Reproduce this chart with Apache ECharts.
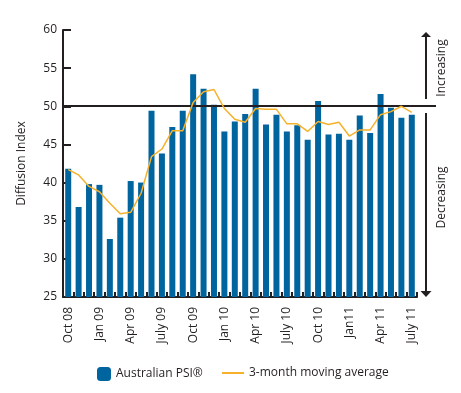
<!DOCTYPE html>
<html><head><meta charset="utf-8">
<script src="https://cdn.jsdelivr.net/npm/echarts@6/dist/echarts.min.js"></script>
<style>html,body{margin:0;padding:0;background:#fff}#c{width:461px;height:393px}</style>
</head><body><div id="c"></div>
<script>
const months = ['Oct 08','Nov 08','Dec 08','Jan 09','Feb 09','Mar 09','Apr 09','May 09','June 09','July 09','Aug 09','Sep 09',
  'Oct 09','Nov 09','Dec 09','Jan 10','Feb 10','Mar 10','Apr 10','May 10','June 10','July 10','Aug 10','Sep 10',
  'Oct 10','Nov 10','Dec 10','Jan11','Feb 11','Mar 11','Apr 11','May 11','June 11','July 11'];
const psi = [41.8,36.8,39.8,39.7,32.6,35.4,40.2,40.0,49.4,43.8,47.3,49.4,
  54.2,52.3,50.2,46.7,48.0,49.0,52.3,47.6,48.9,46.7,47.5,45.6,
  50.7,46.3,46.4,45.6,48.8,46.5,51.6,49.8,48.5,48.9];
const movingAvg = [41.7,41.0,39.5,38.8,37.3,35.9,36.1,38.6,43.4,44.4,46.8,46.8,
  50.5,51.9,52.2,49.7,48.3,47.9,49.7,49.6,49.6,47.7,47.7,46.7,
  48.0,47.6,47.9,46.1,46.9,46.9,48.9,49.3,50.0,49.2];
const yTicks = {min: 25, max: 60, interval: 5};
const threshold = 50;
const seriesNames = ['Australian PSI®', '3-month moving average'];
const sideLabels = ['Increasing', 'Decreasing'];

const ink = '#231f20';
const font = 'Open Sans';
const lineColor = '#f6b12a';
const chart = echarts.init(document.getElementById('c'), null, {renderer: 'canvas'});
const option = {
  animation: false,
  textStyle: {fontFamily: font, color: ink},
  grid: {left: 63, right: 44, top: 30, bottom: 96, containLabel: false},
  legend: [
    {data: [seriesNames[0]], left: 97, top: 367, itemWidth: 14, itemHeight: 14, itemGap: 0,
     textStyle: {fontFamily: font, fontSize: 12, color: ink}, padding: 0},
    {data: [{name: seriesNames[1], icon: 'rect'}], left: 222, top: 367, itemWidth: 22, itemHeight: 2,
     itemStyle: {color: lineColor, borderWidth: 0},
     textStyle: {fontFamily: font, fontSize: 12, color: ink}, padding: 0}
  ],
  xAxis: {
    type: 'category', data: months, boundaryGap: true,
    axisLine: {show: true, lineStyle: {color: ink, width: 2}},
    axisTick: {show: true, inside: true, length: 5, interval: 0, lineStyle: {color: ink, width: 2}},
    axisLabel: {rotate: 90, interval: 2, margin: 10, fontSize: 12, color: ink, fontFamily: font},
    splitLine: {show: false}
  },
  yAxis: {
    type: 'value', min: yTicks.min, max: yTicks.max, interval: yTicks.interval,
    name: 'Diffusion Index', nameLocation: 'middle', nameGap: 35, nameRotate: 90,
    nameTextStyle: {fontSize: 12, color: ink, fontFamily: font},
    axisLine: {show: true, lineStyle: {color: ink, width: 2}},
    axisTick: {show: true, inside: true, length: 8, lineStyle: {color: ink, width: 2}},
    axisLabel: {fontSize: 12, color: ink, margin: 6, fontFamily: font},
    splitLine: {show: false}
  },
  series: [
    {name: seriesNames[0], type: 'bar', data: psi, barWidth: 6,
     itemStyle: {color: '#00649f'}, z: 2},
    {name: seriesNames[1], type: 'line', data: movingAvg, symbol: 'none', showSymbol: false,
     lineStyle: {color: lineColor, width: 1.5}, itemStyle: {color: lineColor}, z: 5}
  ]
};
chart.setOption(option);

const yTop = chart.convertToPixel({yAxisIndex: 0}, yTicks.max);
const yMid = Math.round(chart.convertToPixel({yAxisIndex: 0}, threshold));
const yBot = chart.convertToPixel({yAxisIndex: 0}, yTicks.min);
const xLast = chart.convertToPixel({xAxisIndex: 0}, months[months.length - 1]);
const xPrev = chart.convertToPixel({xAxisIndex: 0}, months[months.length - 2]);
const xFirst = chart.convertToPixel({xAxisIndex: 0}, months[0]);
const half = (xLast - xPrev) / 2;
const xRight = xLast + half;
const xLeft = xFirst - half;
const ax = xRight + 9;
const stroke = {stroke: ink, lineWidth: 2};
chart.setOption({
  graphic: [
    {type: 'line', z: 3, shape: {x1: xLeft, y1: yMid, x2: xRight + 19, y2: yMid}, style: stroke},
    {type: 'line', shape: {x1: ax, y1: yMid - 7, x2: ax, y2: yTop + 6}, style: stroke},
    {type: 'polygon', shape: {points: [[ax - 5, yTop + 7], [ax + 5, yTop + 7], [ax, yTop + 2]]}, style: {fill: ink}},
    {type: 'line', shape: {x1: ax, y1: yMid + 7, x2: ax, y2: yBot - 6}, style: stroke},
    {type: 'polygon', shape: {points: [[ax - 5.5, yBot - 6], [ax + 5.5, yBot - 6], [ax, yBot]]}, style: {fill: ink}},
    {type: 'text', x: ax + 16, y: (yTop + yMid) / 2, rotation: Math.PI / 2,
     style: {text: sideLabels[0], font: '12px "Open Sans"', fill: ink, align: 'center', verticalAlign: 'middle'}},
    {type: 'text', x: ax + 16, y: (yMid + yBot) / 2 - 4, rotation: Math.PI / 2,
     style: {text: sideLabels[1], font: '12px "Open Sans"', fill: ink, align: 'center', verticalAlign: 'middle'}}
  ]
});
</script>
</body></html>
